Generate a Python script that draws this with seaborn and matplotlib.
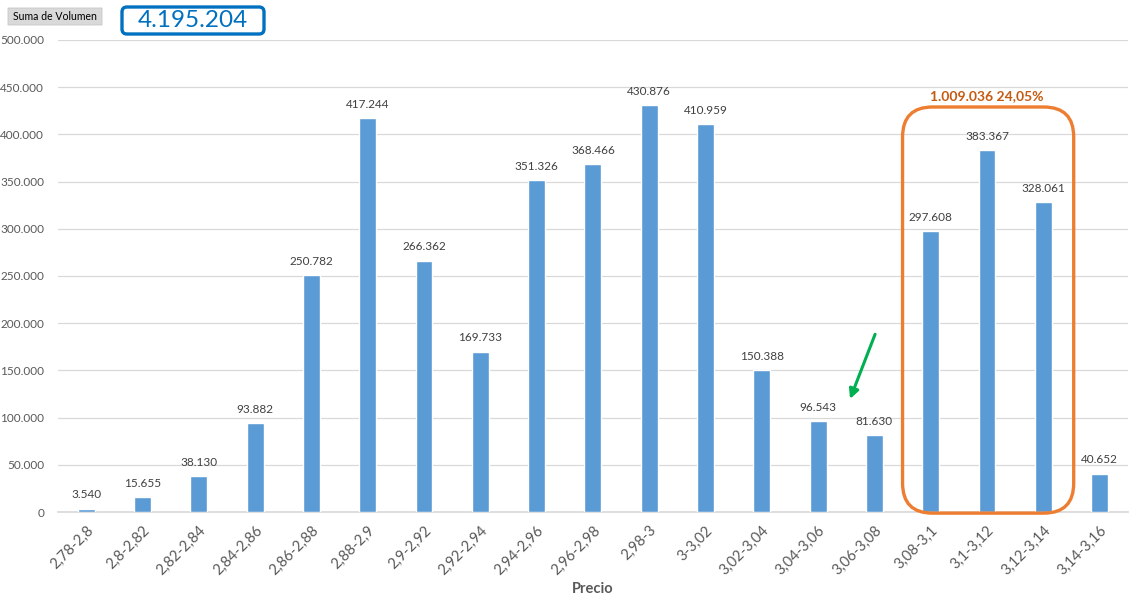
import matplotlib
matplotlib.use("Agg")
import matplotlib.pyplot as plt
import seaborn as sns
import pandas as pd
from matplotlib.patches import FancyBboxPatch

categories = ["2,78-2,8", "2,8-2,82", "2,82-2,84", "2,84-2,86", "2,86-2,88", "2,88-2,9",
              "2,9-2,92", "2,92-2,94", "2,94-2,96", "2,96-2,98", "2,98-3", "3-3,02",
              "3,02-3,04", "3,04-3,06", "3,06-3,08", "3,08-3,1", "3,1-3,12", "3,12-3,14",
              "3,14-3,16"]
volumes = [3540, 15655, 38130, 93882, 250782, 417244, 266362, 169733, 351326, 368466,
           430876, 410959, 150388, 96543, 81630, 297608, 383367, 328061, 40652]
yticks = [0, 50000, 100000, 150000, 200000, 250000, 300000, 350000, 400000, 450000, 500000]
total_label = "4.195.204"
highlight_label = "1.009.036 24,05%"

def fmt(v):
    return f"{v:,}".replace(",", ".")

sns.set_theme(style="white")
plt.rcParams['font.family'] = ['Lato', 'DejaVu Sans']

df = pd.DataFrame({"Precio": categories, "Volumen": volumes})

W, H = 1138, 602
fig = plt.figure(figsize=(W / 100, H / 100), dpi=100)
ax = fig.add_axes([0.051, 0.1495, 0.940, 0.7841])

sns.barplot(data=df, x="Precio", y="Volumen", color="#5B9BD5", width=0.3,
            saturation=1, ax=ax, zorder=3)

ax.set_ylim(0, 500000)
ax.set_xlim(-0.5, len(categories) - 0.5)
ax.set_yticks(yticks)
ax.set_yticklabels([fmt(t) for t in yticks], fontsize=8.5, color="#595959")
ax.set_xticks(range(len(categories)))
ax.set_xticklabels(categories, rotation=45, ha="right", rotation_mode="anchor",
                   fontsize=10.5, color="#595959")
ax.tick_params(axis="both", length=0, pad=8)
ax.tick_params(axis="y", pad=10)
ax.yaxis.grid(True, color="#D9D9D9", linewidth=0.9, zorder=0)
ax.set_axisbelow(True)
for s in ["top", "right", "left"]:
    ax.spines[s].set_visible(False)
ax.spines["bottom"].set_color("#D9D9D9")
ax.set_ylabel("")
ax.set_xlabel("Precio", fontsize=10.5, fontweight="bold", color="#595959", labelpad=3)

for i, v in enumerate(volumes):
    ax.annotate(fmt(v), (i, v), xytext=(0, 6), textcoords="offset points",
                ha="center", va="bottom", fontsize=8.5, color="#404040")

# highlight box (rounded, in data coords with pixel-correct rounding)
ax_w_px = 0.940 * W
ax_h_px = 0.7841 * H
x_per_px = len(categories) / ax_w_px
y_per_px = 500000 / ax_h_px
r_px = 30
box = FancyBboxPatch((14.5, -1200), 3.04, 430200,
                     boxstyle=f"round,pad=0,rounding_size={r_px * x_per_px}",
                     mutation_aspect=y_per_px / x_per_px,
                     fill=False, edgecolor="#ED7D31", linewidth=2.4, zorder=4,
                     clip_on=False)
ax.add_patch(box)
ax.text(16.0, 441000, highlight_label, ha="center", va="center", fontsize=10,
        fontweight="bold", color="#C55A11")

# green arrow
ax.annotate("", xy=(13.55, 117000), xytext=(14.03, 191000),
            arrowprops=dict(arrowstyle="-|>", color="#00B050", lw=2.2,
                            mutation_scale=14), zorder=5)

# header elements (figure-pixel boxes)
def fig_box(x0, y0, x1, y1, r, fc, ec, lw):
    p = FancyBboxPatch((x0 / W, 1 - y1 / H), (x1 - x0) / W, (y1 - y0) / H,
                       boxstyle=f"round,pad=0,rounding_size={r / W}",
                       mutation_aspect=W / H, transform=fig.transFigure,
                       fc=fc, ec=ec, lw=lw)
    fig.patches.append(p)

fig_box(8, 8, 102, 25, 0.01, "#D9D9D9", "#C8C8C8", 0.6)
fig.text(55 / W, 1 - 16.5 / H, "Suma de Volumen", ha="center", va="center", fontsize=7.6,
         color="#000000")
fig_box(122, 7, 264, 34, 5, "white", "#0070C0", 2.4)
fig.text(193 / W, 1 - 20.5 / H, total_label, ha="center", va="center", fontsize=17.5,
         color="#0070C0")

fig.savefig("out.png", dpi=100)
